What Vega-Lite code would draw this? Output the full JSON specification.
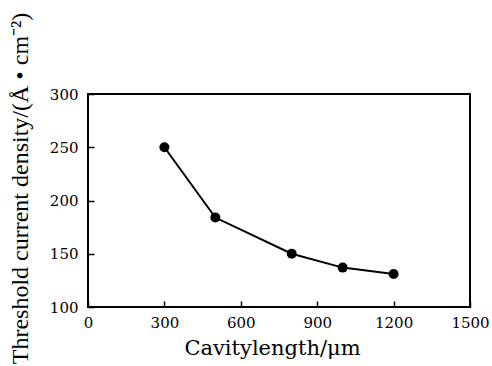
{
  "$schema": "https://vega.github.io/schema/vega-lite/v6.json",
  "autosize": "none",
  "padding": {"left": 88, "top": 94, "right": 22, "bottom": 59},
  "width": 382,
  "height": 213,
  "background": "white",
  "config": {
    "view": {"stroke": "black", "strokeWidth": 2},
    "axis": {"grid": false, "domain": false, "labelColor": "black", "titleColor": "black", "tickColor": "black", "tickWidth": 1.5}
  },
  "data": {
    "values": [
      {"length": 300, "density": 250},
      {"length": 500, "density": 184},
      {"length": 800, "density": 150},
      {"length": 1000, "density": 137},
      {"length": 1200, "density": 131}
    ]
  },
  "encoding": {
    "x": {
      "field": "length", "type": "quantitative",
      "scale": {"domain": [0, 1500], "nice": false, "zero": false},
      "axis": {
        "values": [0, 300, 600, 900, 1200, 1500], "format": "d",
        "title": "Cavitylength/μm",
        "tickSize": -6, "labelPadding": 14, "labelFlush": false,
        "labelFont": "DejaVu Serif", "labelFontSize": 15,
        "titleFont": "DejaVu Serif", "titleFontSize": 21, "titleFontWeight": "normal",
        "titleBaseline": "alphabetic", "titleY": 47, "titleX": 184, "titleAlign": "center"
      }
    },
    "y": {
      "field": "density", "type": "quantitative",
      "scale": {"domain": [100, 300], "nice": false, "zero": false},
      "axis": {
        "values": [100, 150, 200, 250, 300], "format": "d",
        "title": "Threshold current density/(Å • cm⁻²)",
        "tickSize": -6, "labelPadding": 16, "labelFlush": false,
        "labelFont": "DejaVu Serif", "labelFontSize": 15,
        "titleFont": "Liberation Serif", "titleFontSize": 24, "titleFontWeight": "normal",
        "titleAngle": -90, "titleBaseline": "alphabetic", "titleAlign": "center",
        "titleX": -61, "titleY": 94
      }
    }
  },
  "layer": [
    {"mark": {"type": "line", "color": "black", "strokeWidth": 2}},
    {"mark": {"type": "point", "filled": true, "color": "black", "opacity": 1, "size": 100}}
  ]
}
